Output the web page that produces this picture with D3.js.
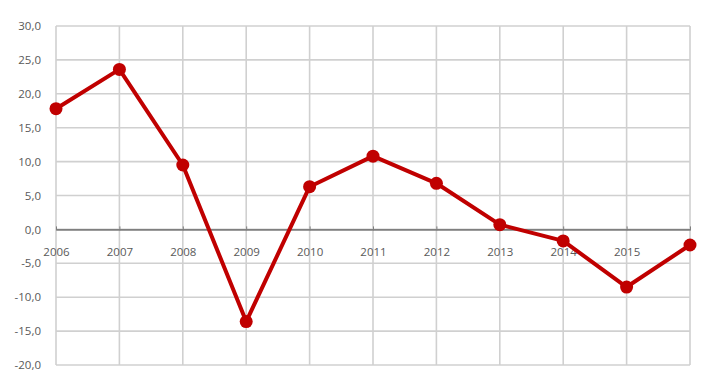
<!DOCTYPE html>
<html>
<head>
<meta charset="utf-8">
<script src="https://cdn.jsdelivr.net/npm/d3@7"></script>
<style>
  body { margin: 0; background: #fff; }
  .tick text { font-family: "Open Sans", sans-serif; font-size: 11.5px; fill: #595959; }
</style>
</head>
<body>
<div id="chart"></div>
<script>
// data
let years = [2006, 2007, 2008, 2009, 2010, 2011, 2012, 2013, 2014, 2015, 2016];
let values = [17.8, 23.6, 9.5, -13.6, 6.3, 10.8, 6.8, 0.7, -1.7, -8.5, -2.3];
let yTicks = [-20, -15, -10, -5, 0, 5, 10, 15, 20, 25, 30];
// the last year has no visible label in the original
let shownYears = [2006, 2007, 2008, 2009, 2010, 2011, 2012, 2013, 2014, 2015];

let margin = {top: 26, right: 12, bottom: 26, left: 56};
let width = 702 - margin.left - margin.right;
let height = 391 - margin.top - margin.bottom;

let svg = d3.select("#chart").append("svg")
    .attr("width", 702)
    .attr("height", 391)
    .append("g")
    .attr("transform", "translate(" + margin.left + "," + margin.top + ")");

let x = d3.scalePoint()
    .domain(years)
    .range([0, width]);

let y = d3.scaleLinear()
    .domain([-20, 30])
    .range([height, 0]);

// horizontal grid
svg.append("g")
    .selectAll("line")
    .data(yTicks)
    .enter().append("line")
    .attr("x1", 0)
    .attr("x2", width)
    .attr("y1", d => y(d))
    .attr("y2", d => y(d))
    .attr("stroke", "#d0d0d0")
    .attr("stroke-width", 1.6);

// vertical grid
svg.append("g")
    .selectAll("line")
    .data(years)
    .enter().append("line")
    .attr("x1", d => x(d))
    .attr("x2", d => x(d))
    .attr("y1", 0)
    .attr("y2", height)
    .attr("stroke", "#d0d0d0")
    .attr("stroke-width", 1.6);

// y axis labels
let yAxis = d3.axisLeft(y)
    .tickValues(yTicks)
    .tickSize(0)
    .tickPadding(15)
    .tickFormat(d => d3.format(".1f")(d).replace(".", ",").replace("−", "-"));

svg.append("g")
    .attr("class", "y-axis")
    .call(yAxis)
    .call(g => g.select(".domain").remove());

// x axis on the zero line
let xAxis = d3.axisBottom(x)
    .tickValues(years)
    .tickSizeInner(3)
    .tickSizeOuter(0)
    .tickPadding(15)
    .tickFormat(d => shownYears.includes(d) ? d : "");

let xg = svg.append("g")
    .attr("class", "x-axis")
    .attr("transform", "translate(0," + y(0) + ")")
    .call(xAxis);

xg.select(".domain").attr("stroke", "#7f7f7f").attr("stroke-width", 1.6);
xg.selectAll(".tick line")
    .attr("stroke", "#7f7f7f")
    .attr("y1", -3)
    .attr("y2", 1);

// line
let line = d3.line()
    .x((d, i) => x(years[i]))
    .y(d => y(d));

svg.append("path")
    .datum(values)
    .attr("fill", "none")
    .attr("stroke", "#c00000")
    .attr("stroke-width", 4)
    .attr("stroke-linejoin", "round")
    .attr("d", line);

svg.selectAll(".dot")
    .data(values)
    .enter().append("circle")
    .attr("class", "dot")
    .attr("cx", (d, i) => x(years[i]))
    .attr("cy", d => y(d))
    .attr("r", 6.5)
    .attr("fill", "#c00000");
</script>
</body>
</html>
